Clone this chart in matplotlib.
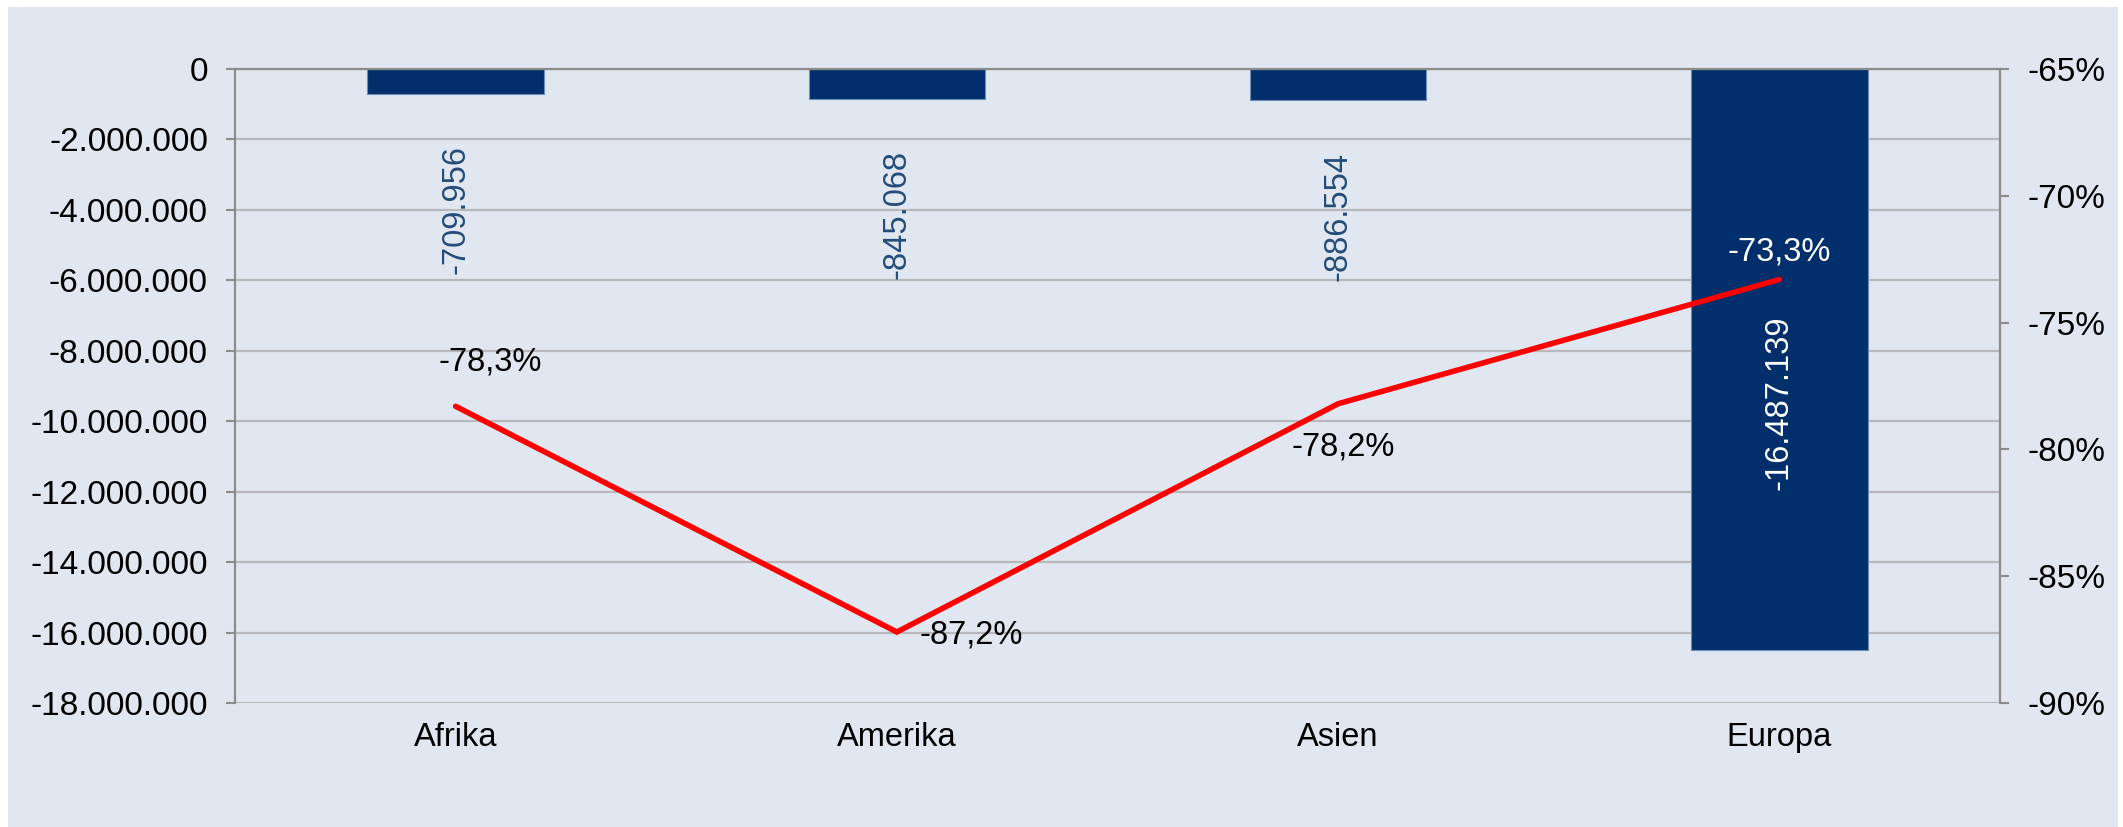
import matplotlib
matplotlib.use("Agg")
import matplotlib.pyplot as plt
from matplotlib.patches import Rectangle
from matplotlib.ticker import FuncFormatter, MultipleLocator

# ---- data ----
categories = ["Afrika", "Amerika", "Asien", "Europa"]
bar_values = [-709956, -845068, -886554, -16487139]
pct_values = [-78.3, -87.2, -78.2, -73.3]

# ---- style ----
BG = "#E1E7F0"
BAR = "#002F6B"
BAR_EDGE = "#6E8DBB"
LABEL_BLUE = "#244C79"
AXIS_GRAY = "#8C8C8C"
GRID_GRAY = "#B6B8BC"
FS = 23.5

plt.rcParams["font.family"] = ["Liberation Sans", "DejaVu Sans"]

W, H = 2123, 827
fig = plt.figure(figsize=(W / 100, H / 100), dpi=100, facecolor="white")
bg = Rectangle((8 / W, 0), (2118 - 8) / W, (827 - 7) / H,
               transform=fig.transFigure, facecolor=BG, edgecolor="none", zorder=-10)
fig.patches.append(bg)

ax = fig.add_axes([235 / W, 1 - 703 / H, (2000 - 235) / W, (703 - 69) / H])
ax.set_facecolor(BG)
ax.patch.set_alpha(0)

x = list(range(len(categories)))
ax.bar(x, bar_values, width=0.4, color=BAR, edgecolor=BAR_EDGE, linewidth=0.8, zorder=2)
ax.set_xlim(-0.5, len(categories) - 0.5)
ax.set_ylim(-18_000_000, 0)
ax.yaxis.set_major_locator(MultipleLocator(2_000_000))
ax.yaxis.set_major_formatter(FuncFormatter(lambda v, p: f"{int(round(v)):,}".replace(",", ".")))
ax.grid(axis="y", color=GRID_GRAY, linewidth=1.6, zorder=1)
ax.set_axisbelow(True)
ax.set_xticks(x)
ax.set_xticklabels(categories)
ax.tick_params(axis="x", length=0, pad=14, labelsize=FS)
ax.tick_params(axis="y", direction="out", length=6.5, width=1.5, color=AXIS_GRAY,
               pad=13, labelsize=24)
for s in ("left", "right", "top"):
    ax.spines[s].set_color(AXIS_GRAY)
    ax.spines[s].set_linewidth(1.6)
ax.spines["bottom"].set_visible(False)

# bar value labels
def fmt_int(v):
    return f"{v:,}".replace(",", ".")

for i, v in enumerate(bar_values):
    if abs(v) > 5_000_000:
        ax.annotate(fmt_int(v), xy=(i, v), xytext=(0, 178), textcoords="offset points",
                    rotation=90, ha="center", va="center", color="white", fontsize=FS, zorder=4)
    else:
        ax.annotate(fmt_int(v), xy=(i, v), xytext=(0, -37), textcoords="offset points",
                    rotation=90, ha="center", va="top", color=LABEL_BLUE, fontsize=FS, zorder=4)

# secondary axis with percentage line
ax2 = ax.twinx()
ax2.set_ylim(-90, -65)
ax2.yaxis.set_major_locator(MultipleLocator(5))
ax2.yaxis.set_major_formatter(FuncFormatter(lambda v, p: f"{int(round(v))}%"))
ax2.tick_params(axis="y", direction="out", length=6.5, width=1.5, color=AXIS_GRAY,
                pad=13, labelsize=24)
for s in ax2.spines.values():
    s.set_visible(False)
ax2.plot(x, pct_values, color="#FF0000", linewidth=4.0, solid_capstyle="round",
         solid_joinstyle="miter", zorder=3)

offsets = [(25, 32, "center"), (16, -2, "left"), (4, -31, "center"), (0, 20, "center")]
colors = ["black", "black", "black", "white"]
for i, v in enumerate(pct_values):
    dx, dy, ha = offsets[i]
    ax2.annotate(f"{v:.1f}%".replace(".", ","), xy=(i, v), xytext=(dx, dy),
                 textcoords="offset points", ha=ha, va="center", color=colors[i],
                 fontsize=FS, zorder=5)

fig.savefig("out.png", dpi=100, facecolor="white")
